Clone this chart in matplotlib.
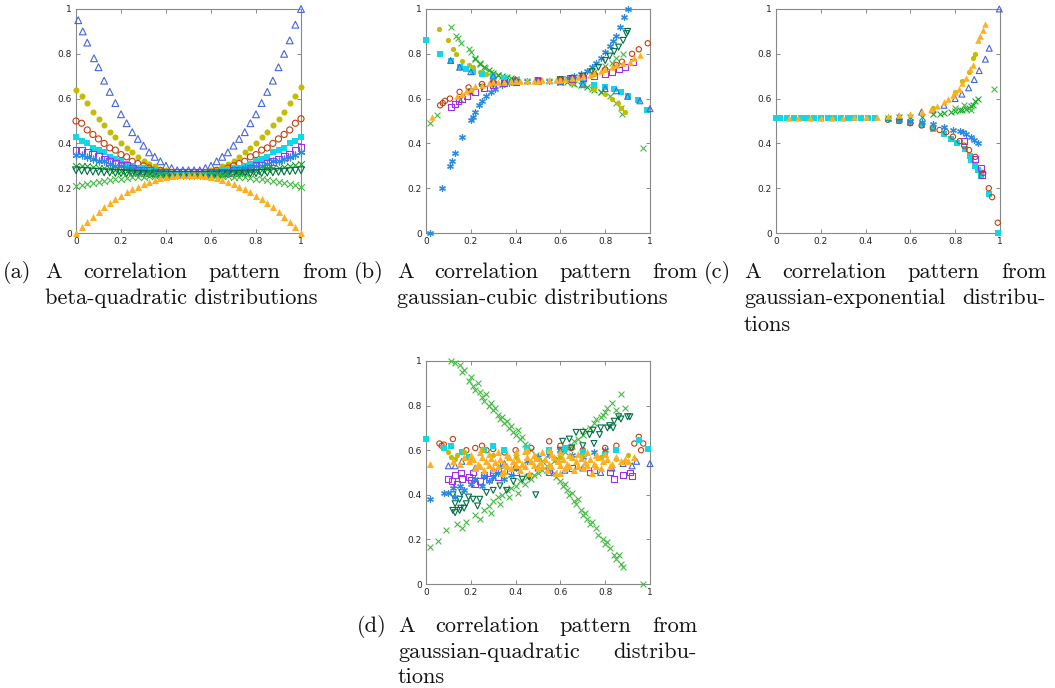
import matplotlib
matplotlib.use("Agg")
import matplotlib.pyplot as plt

W, H = 1055, 688

# ---------------- colours / markers ----------------
C_BLUE_TRI = '#4466dd'
C_OLIVE = '#c4bc00'
C_BROWN = '#c04010'
C_CYAN = '#10d8e4'
C_PURPLE = '#a030e8'
C_STAR = '#2a8be0'
C_GREEN = '#18a828'
C_GREENX = '#44bb44'
C_DKGREEN = '#006d45'
C_ORANGE = '#ffb020'

TICKS = [0, 0.2, 0.4, 0.6, 0.8, 1.0]
TICK_LABELS = ['0', '0.2', '0.4', '0.6', '0.8', '1']

# ---------------- panel (a): beta-quadratic ----------------
XA = [0.0, 0.025, 0.05, 0.075, 0.1, 0.125, 0.15, 0.175, 0.2, 0.225, 0.25, 0.275, 0.3,
      0.325, 0.35, 0.375, 0.4, 0.425, 0.45, 0.475, 0.5, 0.525, 0.55, 0.575, 0.6, 0.625,
      0.65, 0.675, 0.7, 0.725, 0.75, 0.775, 0.8, 0.825, 0.85, 0.875, 0.9, 0.925, 0.95,
      0.975, 1.0]
XA_BLUE = [0.01, 0.03, 0.05, 0.08, 0.10, 0.125, 0.15, 0.175, 0.2, 0.225, 0.25, 0.275, 0.3,
           0.325, 0.35, 0.375, 0.4, 0.425, 0.45, 0.475, 0.5, 0.525, 0.55, 0.575, 0.6, 0.625,
           0.65, 0.675, 0.7, 0.725, 0.75, 0.775, 0.8, 0.825, 0.85, 0.875, 0.9, 0.925, 0.95,
           0.975, 1.0]
YA_BLUE = [0.95, 0.90, 0.85, 0.78, 0.74, 0.68, 0.63, 0.58, 0.53, 0.49, 0.45, 0.42, 0.39, 0.36,
           0.34, 0.32, 0.30, 0.29, 0.28, 0.28, 0.28, 0.28, 0.28, 0.29, 0.30, 0.32, 0.34, 0.36,
           0.39, 0.42, 0.45, 0.49, 0.53, 0.58, 0.63, 0.68, 0.74, 0.80, 0.86, 0.93, 1.00]
YA_OLIVE = [0.64, 0.61, 0.58, 0.54, 0.51, 0.48, 0.45, 0.43, 0.40, 0.38, 0.36, 0.34, 0.32, 0.31,
            0.30, 0.28, 0.28, 0.27, 0.26, 0.26, 0.26, 0.26, 0.26, 0.27, 0.28, 0.28, 0.30, 0.31,
            0.32, 0.34, 0.36, 0.38, 0.40, 0.43, 0.45, 0.48, 0.51, 0.54, 0.58, 0.61, 0.65]
YA_BROWN = [0.50, 0.49, 0.46, 0.44, 0.42, 0.40, 0.38, 0.37, 0.35, 0.34, 0.32, 0.31, 0.30, 0.29,
            0.28, 0.28, 0.27, 0.27, 0.26, 0.26, 0.26, 0.26, 0.26, 0.27, 0.27, 0.28, 0.28, 0.29,
            0.30, 0.31, 0.32, 0.34, 0.35, 0.37, 0.38, 0.40, 0.42, 0.44, 0.46, 0.49, 0.51]
YA_CYAN = [0.43, 0.41, 0.40, 0.38, 0.37, 0.36, 0.34, 0.33, 0.32, 0.31, 0.30, 0.29, 0.29, 0.28,
           0.28, 0.27, 0.27, 0.26, 0.26, 0.26, 0.26, 0.26, 0.26, 0.26, 0.27, 0.27, 0.28, 0.28,
           0.29, 0.29, 0.30, 0.31, 0.32, 0.33, 0.34, 0.36, 0.37, 0.38, 0.40, 0.41, 0.43]
YA_PURPLE = [0.37, 0.37, 0.36, 0.35, 0.34, 0.33, 0.32, 0.31, 0.30, 0.30, 0.29, 0.28, 0.28, 0.28,
             0.27, 0.27, 0.27, 0.27, 0.27, 0.27, 0.27, 0.27, 0.27, 0.27, 0.27, 0.27, 0.27, 0.27,
             0.28, 0.28, 0.28, 0.29, 0.30, 0.30, 0.31, 0.32, 0.33, 0.34, 0.35, 0.37, 0.38]
YA_STAR = [0.35, 0.35, 0.34, 0.33, 0.32, 0.32, 0.31, 0.30, 0.30, 0.29, 0.29, 0.28, 0.28, 0.27,
           0.27, 0.27, 0.26, 0.26, 0.26, 0.26, 0.26, 0.26, 0.26, 0.26, 0.26, 0.27, 0.27, 0.27,
           0.28, 0.28, 0.29, 0.29, 0.30, 0.30, 0.31, 0.32, 0.32, 0.33, 0.34, 0.35, 0.36]
YA_GREEN = [0.30, 0.30, 0.30, 0.296, 0.292, 0.288, 0.285, 0.281, 0.278, 0.275, 0.272, 0.270,
            0.268, 0.266, 0.264, 0.263, 0.262, 0.261, 0.260, 0.260, 0.260, 0.260, 0.260, 0.261,
            0.262, 0.263, 0.264, 0.266, 0.268, 0.270, 0.272, 0.275, 0.278, 0.281, 0.285, 0.288,
            0.292, 0.296, 0.300, 0.305, 0.31]
YA_DKGREEN = [0.28, 0.278, 0.276, 0.274, 0.273, 0.271, 0.270, 0.268, 0.267, 0.266, 0.265, 0.264,
              0.263, 0.262, 0.262, 0.261, 0.261, 0.260, 0.260, 0.260, 0.260, 0.260, 0.260, 0.260,
              0.261, 0.261, 0.262, 0.262, 0.263, 0.264, 0.265, 0.266, 0.267, 0.268, 0.270, 0.271,
              0.273, 0.274, 0.276, 0.278, 0.28]
YA_GREENX = [0.21, 0.215, 0.22, 0.224, 0.228, 0.232, 0.236, 0.239, 0.242, 0.245, 0.248, 0.250,
             0.252, 0.254, 0.256, 0.257, 0.258, 0.259, 0.259, 0.260, 0.260, 0.260, 0.259, 0.259,
             0.258, 0.257, 0.256, 0.254, 0.252, 0.250, 0.248, 0.245, 0.242, 0.239, 0.236, 0.232,
             0.228, 0.224, 0.22, 0.213, 0.205]
YA_ORANGE = [0.0, 0.025, 0.049, 0.072, 0.094, 0.114, 0.133, 0.150, 0.166, 0.181, 0.195, 0.207,
             0.218, 0.228, 0.237, 0.244, 0.250, 0.254, 0.257, 0.259, 0.26, 0.259, 0.257, 0.254,
             0.250, 0.244, 0.237, 0.228, 0.218, 0.207, 0.195, 0.181, 0.166, 0.150, 0.133, 0.114,
             0.094, 0.072, 0.049, 0.025, 0.0]

# ---------------- panel (b): gaussian-cubic ----------------
XB_STAR = [0.02, 0.07, 0.105, 0.115, 0.13, 0.16, 0.20, 0.21, 0.22, 0.235, 0.25, 0.27, 0.29, 0.31,
           0.34, 0.37, 0.40, 0.45, 0.50, 0.55, 0.60, 0.63, 0.66, 0.69, 0.72, 0.74, 0.76, 0.78,
           0.80, 0.82, 0.835, 0.85, 0.865, 0.885, 0.90]
YB_STAR = [0.00, 0.20, 0.30, 0.32, 0.355, 0.43, 0.505, 0.52, 0.54, 0.57, 0.59, 0.61, 0.63, 0.645,
           0.66, 0.67, 0.675, 0.68, 0.68, 0.68, 0.685, 0.69, 0.70, 0.71, 0.725, 0.74, 0.76, 0.78,
           0.81, 0.835, 0.855, 0.88, 0.92, 0.965, 1.0]
XB_GREENX_DN = [0.11, 0.135, 0.145, 0.157, 0.19, 0.20, 0.22, 0.24, 0.265, 0.29, 0.32, 0.35, 0.40,
                0.45, 0.50, 0.55, 0.60, 0.65, 0.70, 0.74, 0.78, 0.82, 0.85, 0.87, 0.876, 0.97]
YB_GREENX_DN = [0.92, 0.88, 0.87, 0.85, 0.82, 0.81, 0.78, 0.76, 0.735, 0.72, 0.705, 0.695, 0.685,
                0.68, 0.68, 0.68, 0.675, 0.67, 0.66, 0.645, 0.63, 0.61, 0.58, 0.56, 0.53, 0.378]
XB_GREEN_DN = [0.22, 0.24, 0.26, 0.28, 0.30, 0.32, 0.34, 0.36, 0.38, 0.40, 0.60, 0.63, 0.66, 0.69,
               0.72, 0.75, 0.78]
YB_GREEN_DN = [0.775, 0.755, 0.74, 0.727, 0.716, 0.707, 0.70, 0.695, 0.69, 0.686, 0.676, 0.672,
               0.667, 0.66, 0.652, 0.64, 0.628]
XB_GREENX_UP = [0.02, 0.05, 0.15, 0.20, 0.30, 0.40, 0.50, 0.60, 0.70, 0.75, 0.80, 0.83, 0.85, 0.88]
YB_GREENX_UP = [0.49, 0.527, 0.60, 0.63, 0.665, 0.678, 0.68, 0.685, 0.70, 0.72, 0.745, 0.76, 0.78,
                0.80]
XB_DKGREEN = [0.20, 0.25, 0.30, 0.35, 0.40, 0.50, 0.60, 0.65, 0.70, 0.74, 0.77, 0.80, 0.82, 0.84,
              0.86, 0.88, 0.895, 0.90]
YB_DKGREEN = [0.63, 0.65, 0.665, 0.673, 0.678, 0.68, 0.685, 0.69, 0.70, 0.72, 0.74, 0.77, 0.79,
              0.81, 0.83, 0.86, 0.89, 0.90]
XB_OLIVE = [0.06, 0.10, 0.12, 0.135, 0.16, 0.19, 0.21, 0.24, 0.27, 0.30, 0.35, 0.40, 0.50, 0.60,
            0.65, 0.70, 0.75, 0.80, 0.83, 0.855, 0.87, 0.89]
YB_OLIVE = [0.91, 0.86, 0.82, 0.80, 0.77, 0.75, 0.74, 0.72, 0.71, 0.70, 0.69, 0.685, 0.68, 0.675,
            0.67, 0.66, 0.645, 0.62, 0.60, 0.58, 0.56, 0.54]
XB_CYAN = [0.0, 0.063, 0.113, 0.15, 0.18, 0.21, 0.25, 0.30, 0.35, 0.40, 0.50, 0.60, 0.70, 0.75,
           0.80, 0.84, 0.87, 0.90, 0.948, 0.985]
YB_CYAN = [0.86, 0.80, 0.77, 0.74, 0.73, 0.72, 0.71, 0.70, 0.69, 0.685, 0.68, 0.675, 0.67, 0.66,
           0.65, 0.645, 0.63, 0.61, 0.594, 0.551]
XB_BLUE_TRI = [0.11, 0.15, 0.20, 0.30, 0.40, 0.50, 0.60, 0.70, 0.80, 0.85, 0.90, 0.955, 1.0]
YB_BLUE_TRI = [0.77, 0.74, 0.72, 0.70, 0.685, 0.68, 0.675, 0.665, 0.645, 0.635, 0.61, 0.59, 0.555]
XB_BROWN = [0.063, 0.075, 0.085, 0.107, 0.15, 0.19, 0.25, 0.30, 0.40, 0.50, 0.60, 0.70, 0.75,
            0.80, 0.85, 0.875, 0.92, 0.95, 0.99]
YB_BROWN = [0.57, 0.58, 0.59, 0.60, 0.63, 0.65, 0.665, 0.672, 0.678, 0.68, 0.685, 0.70, 0.71,
            0.73, 0.75, 0.765, 0.80, 0.82, 0.847]
XB_PURPLE = [0.111, 0.13, 0.145, 0.16, 0.185, 0.22, 0.26, 0.30, 0.35, 0.40, 0.50, 0.60, 0.65,
             0.70, 0.75, 0.80, 0.83, 0.86, 0.89, 0.925]
YB_PURPLE = [0.561, 0.575, 0.59, 0.60, 0.61, 0.63, 0.645, 0.66, 0.67, 0.675, 0.68, 0.683, 0.687,
             0.69, 0.70, 0.71, 0.72, 0.73, 0.74, 0.765]
XB_ORANGE = [0.026, 0.14, 0.16, 0.18, 0.20, 0.22, 0.25, 0.28, 0.30, 0.32, 0.35, 0.38, 0.40, 0.42,
             0.45, 0.48, 0.50, 0.52, 0.55, 0.58, 0.60, 0.62, 0.65, 0.68, 0.70, 0.73, 0.75, 0.78,
             0.80, 0.83, 0.85, 0.88, 0.91, 0.93, 0.955]
YB_ORANGE = [0.516, 0.61, 0.62, 0.635, 0.645, 0.655, 0.66, 0.668, 0.672, 0.674, 0.676, 0.677,
             0.678, 0.679, 0.68, 0.68, 0.68, 0.681, 0.682, 0.684, 0.685, 0.687, 0.69, 0.695, 0.70,
             0.707, 0.715, 0.722, 0.73, 0.74, 0.75, 0.76, 0.765, 0.78, 0.795]

# ---------------- panel (c): gaussian-exponential ----------------
XC_FLAT = [0.05, 0.08, 0.11, 0.14, 0.17, 0.20, 0.23, 0.26, 0.29, 0.32, 0.35, 0.38, 0.41, 0.44]
YC_FLAT = [0.515, 0.515, 0.515, 0.515, 0.515, 0.515, 0.515, 0.515, 0.515, 0.515, 0.515, 0.515,
           0.515, 0.515]
XC_ORANGE = [0.06, 0.10, 0.15, 0.20, 0.25, 0.30, 0.35, 0.40, 0.45, 0.50, 0.55, 0.60, 0.65, 0.69,
             0.72, 0.75, 0.77, 0.79, 0.80, 0.818, 0.83, 0.85, 0.865, 0.878, 0.90, 0.91, 0.923,
             0.933]
YC_ORANGE = [0.515, 0.515, 0.515, 0.515, 0.515, 0.515, 0.517, 0.518, 0.52, 0.522, 0.525, 0.53,
             0.54, 0.555, 0.565, 0.585, 0.60, 0.615, 0.63, 0.645, 0.67, 0.69, 0.73, 0.75, 0.86,
             0.88, 0.907, 0.933]
XC_OLIVE = [0.70, 0.80, 0.83, 0.86, 0.88, 0.888]
YC_OLIVE = [0.56, 0.63, 0.68, 0.72, 0.78, 0.80]
XC_BLUE_TRI = [0.55, 0.65, 0.70, 0.75, 0.80, 0.83, 0.86, 0.885, 0.907, 0.935, 0.952, 0.997]
YC_BLUE_TRI = [0.52, 0.54, 0.55, 0.57, 0.60, 0.62, 0.648, 0.685, 0.725, 0.776, 0.825, 1.0]
XC_GREEN = [0.50, 0.55, 0.60, 0.65, 0.70, 0.73, 0.75, 0.78, 0.80, 0.82, 0.83, 0.85, 0.86, 0.87,
            0.88, 0.89, 0.90]
YC_GREEN = [0.515, 0.517, 0.52, 0.52, 0.53, 0.533, 0.535, 0.54, 0.545, 0.548, 0.55, 0.555, 0.56,
            0.565, 0.57, 0.59, 0.60]
XC_GREENX = [0.80, 0.84, 0.87, 0.975]
YC_GREENX = [0.56, 0.57, 0.55, 0.643]
XC_STAR = [0.50, 0.55, 0.60, 0.65, 0.70, 0.75, 0.79, 0.82, 0.835, 0.85, 0.87, 0.885, 0.90]
YC_STAR = [0.51, 0.505, 0.50, 0.495, 0.485, 0.475, 0.46, 0.455, 0.45, 0.44, 0.43, 0.415, 0.40]
XC_BROWN = [0.50, 0.55, 0.60, 0.65, 0.70, 0.73, 0.76, 0.79, 0.82, 0.84, 0.862, 0.89, 0.925, 0.95,
            0.965, 0.99]
YC_BROWN = [0.505, 0.50, 0.49, 0.48, 0.47, 0.46, 0.45, 0.43, 0.41, 0.39, 0.37, 0.34, 0.268, 0.20,
            0.16, 0.046]
XC_PURPLE = [0.838, 0.89, 0.915, 0.92]
YC_PURPLE = [0.41, 0.33, 0.29, 0.26]
XC_CYAN = [0.0, 0.02, 0.55, 0.60, 0.65, 0.70, 0.75, 0.78, 0.81, 0.845, 0.865, 0.87, 0.89, 0.90,
           0.915, 0.95, 0.99]
YC_CYAN = [0.515, 0.515, 0.50, 0.49, 0.48, 0.465, 0.44, 0.42, 0.40, 0.375, 0.345, 0.325, 0.30,
           0.28, 0.255, 0.175, 0.0]

# ---------------- panel (d): gaussian-quadratic ----------------
XD_GREENX_DN = [0.11, 0.13, 0.15, 0.16, 0.17, 0.19, 0.20, 0.21, 0.22, 0.23, 0.24, 0.25, 0.26, 0.27,
                0.28, 0.29, 0.30, 0.31, 0.32, 0.33, 0.34, 0.35, 0.36, 0.37, 0.38, 0.39, 0.40, 0.41,
                0.42, 0.43, 0.44, 0.45, 0.47, 0.49, 0.52, 0.55, 0.57, 0.58, 0.60, 0.61, 0.62, 0.63,
                0.64, 0.65, 0.66, 0.67, 0.68, 0.69, 0.70, 0.71, 0.72, 0.73, 0.74, 0.76, 0.77, 0.79,
                0.80, 0.81, 0.82, 0.84, 0.85, 0.86, 0.87, 0.88, 0.97]
YD_GREENX_DN = [1.00, 0.99, 0.98, 0.95, 0.96, 0.91, 0.93, 0.89, 0.87, 0.90, 0.86, 0.84, 0.82, 0.85,
                0.80, 0.81, 0.78, 0.79, 0.76, 0.74, 0.75, 0.72, 0.73, 0.70, 0.71, 0.68, 0.67, 0.69,
                0.65, 0.66, 0.63, 0.62, 0.60, 0.58, 0.55, 0.52, 0.50, 0.48, 0.46, 0.44, 0.45, 0.42,
                0.40, 0.41, 0.37, 0.36, 0.38, 0.33, 0.31, 0.32, 0.29, 0.27, 0.28, 0.25, 0.22, 0.20,
                0.18, 0.19, 0.16, 0.13, 0.11, 0.13, 0.09, 0.075, 0.0]
XD_GREENX_UP = [0.02, 0.055, 0.09, 0.14, 0.16, 0.18, 0.22, 0.24, 0.26, 0.28, 0.29, 0.30, 0.32, 0.33,
                0.34, 0.36, 0.37, 0.38, 0.40, 0.41, 0.42, 0.44, 0.45, 0.47, 0.48, 0.50, 0.52, 0.54,
                0.55, 0.57, 0.59, 0.60, 0.62, 0.63, 0.65, 0.66, 0.68, 0.70, 0.71, 0.73, 0.75, 0.76,
                0.78, 0.79, 0.80, 0.81, 0.83, 0.85, 0.87, 0.89]
YD_GREENX_UP = [0.167, 0.195, 0.24, 0.27, 0.25, 0.28, 0.31, 0.29, 0.33, 0.35, 0.32, 0.37, 0.39,
                0.36, 0.40, 0.42, 0.39, 0.43, 0.44, 0.41, 0.46, 0.45, 0.48, 0.47, 0.49, 0.50, 0.51,
                0.53, 0.52, 0.55, 0.56, 0.58, 0.59, 0.61, 0.62, 0.64, 0.65, 0.67, 0.69, 0.70, 0.72,
                0.74, 0.75, 0.76, 0.77, 0.79, 0.81, 0.78, 0.85, 0.79]
XD_DKGREEN = [0.12, 0.13, 0.15, 0.18, 0.19, 0.21, 0.24, 0.27, 0.30, 0.33, 0.36, 0.39, 0.43, 0.46,
              0.15, 0.17, 0.23, 0.12, 0.16, 0.13, 0.155, 0.49, 0.55, 0.60, 0.61, 0.64, 0.65, 0.67,
              0.70, 0.70, 0.73, 0.746, 0.775, 0.78, 0.81, 0.82, 0.835, 0.84, 0.86, 0.87, 0.90,
              0.91, 0.75]
YD_DKGREEN = [0.33, 0.36, 0.38, 0.36, 0.39, 0.38, 0.38, 0.41, 0.42, 0.44, 0.42, 0.46, 0.47, 0.48,
              0.33, 0.34, 0.35, 0.40, 0.41, 0.32, 0.34, 0.40, 0.58, 0.60, 0.64, 0.65, 0.61, 0.68,
              0.68, 0.62, 0.67, 0.69, 0.67, 0.70, 0.70, 0.71, 0.70, 0.73, 0.75, 0.74, 0.75, 0.75,
              0.63]
XD_PURPLE = [0.10, 0.115, 0.13, 0.14, 0.155, 0.16, 0.19, 0.20, 0.21, 0.22, 0.24, 0.26, 0.28, 0.30,
             0.32, 0.35, 0.40, 0.55, 0.65, 0.73, 0.75, 0.82, 0.84, 0.88, 0.91, 0.92]
YD_PURPLE = [0.47, 0.46, 0.49, 0.45, 0.50, 0.47, 0.48, 0.465, 0.50, 0.45, 0.46, 0.49, 0.47, 0.50,
             0.48, 0.51, 0.50, 0.51, 0.52, 0.50, 0.51, 0.50, 0.47, 0.49, 0.50, 0.485]
XD_STAR = [0.02, 0.08, 0.10, 0.12, 0.13, 0.15, 0.17, 0.20, 0.22, 0.25, 0.28, 0.30, 0.32, 0.35,
           0.38, 0.40, 0.45, 0.50, 0.55, 0.60, 0.65, 0.70, 0.75, 0.80, 0.26, 0.33]
YD_STAR = [0.38, 0.41, 0.41, 0.43, 0.39, 0.44, 0.42, 0.45, 0.47, 0.44, 0.46, 0.48, 0.50, 0.47,
           0.49, 0.52, 0.55, 0.57, 0.58, 0.60, 0.58, 0.57, 0.59, 0.60, 0.485, 0.53]
XD_BROWN = [0.06, 0.07, 0.08, 0.12, 0.18, 0.22, 0.25, 0.27, 0.30, 0.35, 0.40, 0.47, 0.55, 0.60,
            0.65, 0.70, 0.80, 0.85, 0.93, 0.95, 0.97, 0.96]
YD_BROWN = [0.63, 0.62, 0.625, 0.65, 0.60, 0.61, 0.62, 0.60, 0.605, 0.59, 0.60, 0.61, 0.64, 0.62,
            0.61, 0.60, 0.61, 0.62, 0.63, 0.66, 0.63, 0.60]
XD_CYAN = [0.0, 0.08, 0.11, 0.16, 0.19, 0.26, 0.30, 0.35, 0.45, 0.55, 0.62, 0.70, 0.80, 0.85,
           0.95, 0.99]
YD_CYAN = [0.65, 0.61, 0.62, 0.59, 0.57, 0.60, 0.62, 0.60, 0.61, 0.60, 0.61, 0.59, 0.58, 0.60,
           0.645, 0.605]
XD_OLIVE = [0.10, 0.11, 0.13, 0.14, 0.17, 0.20, 0.25, 0.30, 0.40, 0.50, 0.60, 0.70, 0.78, 0.85,
            0.90]
YD_OLIVE = [0.59, 0.57, 0.56, 0.58, 0.59, 0.56, 0.60, 0.58, 0.57, 0.56, 0.57, 0.58, 0.57, 0.56,
            0.58]
XD_BLUE_TRI = [0.10, 0.13, 0.16, 0.22, 0.30, 0.35, 0.40, 0.50, 0.55, 0.62, 0.70, 0.78, 0.83, 0.88,
               0.92, 0.94, 1.0]
YD_BLUE_TRI = [0.53, 0.53, 0.55, 0.52, 0.51, 0.54, 0.53, 0.52, 0.50, 0.51, 0.52, 0.50, 0.52, 0.54,
               0.53, 0.55, 0.54]
XD_ORANGE = [0.22, 0.26, 0.30, 0.34, 0.38, 0.42, 0.46, 0.50, 0.54, 0.58, 0.62, 0.66, 0.70, 0.74,
             0.78, 0.82,
             0.15, 0.19, 0.23, 0.27, 0.31, 0.35, 0.39, 0.43, 0.47, 0.51, 0.55, 0.59, 0.63, 0.67,
             0.71, 0.75, 0.79, 0.83, 0.87,
             0.17, 0.21, 0.25, 0.29, 0.33, 0.37, 0.41, 0.45, 0.49, 0.53, 0.57, 0.61, 0.65, 0.69,
             0.73, 0.77, 0.81, 0.85, 0.89,
             0.20, 0.24, 0.28, 0.32, 0.36, 0.40, 0.44, 0.48, 0.52, 0.56, 0.60, 0.64, 0.68, 0.72,
             0.76, 0.80,
             0.24, 0.28, 0.32, 0.36, 0.40, 0.44, 0.48, 0.52, 0.56, 0.60, 0.64, 0.68, 0.72, 0.76,
             0.02, 0.93, 0.90, 0.12, 0.45, 0.55, 0.35, 0.60]
YD_ORANGE = [0.52, 0.51, 0.52, 0.50, 0.52, 0.51, 0.50, 0.52, 0.51, 0.50, 0.52, 0.51, 0.52, 0.50,
             0.52, 0.53,
             0.54, 0.55, 0.54, 0.55, 0.545, 0.54, 0.55, 0.54, 0.55, 0.545, 0.54, 0.55, 0.54, 0.55,
             0.545, 0.54, 0.55, 0.54, 0.55,
             0.57, 0.56, 0.57, 0.565, 0.56, 0.57, 0.56, 0.57, 0.565, 0.56, 0.57, 0.56, 0.57, 0.565,
             0.56, 0.57, 0.56, 0.57, 0.56,
             0.58, 0.59, 0.585, 0.59, 0.58, 0.59, 0.595, 0.58, 0.59, 0.585, 0.59, 0.58, 0.585, 0.59,
             0.58, 0.585,
             0.53, 0.535, 0.53, 0.53, 0.535, 0.53, 0.535, 0.53, 0.53, 0.535, 0.53, 0.53, 0.535, 0.53,
             0.54, 0.57, 0.55, 0.55, 0.60, 0.60, 0.505, 0.50]

# ---------------- captions ----------------
CAPTIONS = {
    'a': ("(a)", ["A correlation pattern from", "beta-quadratic distributions"]),
    'b': ("(b)", ["A correlation pattern from", "gaussian-cubic distributions"]),
    'c': ("(c)", ["A correlation pattern from", "gaussian-exponential distribu-", "tions"]),
    'd': ("(d)", ["A correlation pattern from", "gaussian-quadratic distribu-", "tions"]),
}

# ---------------- figure ----------------
fig = plt.figure(figsize=(W / 100, H / 100), dpi=100)


def make_axes(px_left, px_top, px_w, px_h):
    ax = fig.add_axes([px_left / W, 1 - (px_top + px_h) / H, px_w / W, px_h / H])
    ax.set_xlim(0, 1)
    ax.set_ylim(0, 1)
    ax.set_xticks(TICKS)
    ax.set_yticks(TICKS)
    ax.set_xticklabels(TICK_LABELS)
    ax.set_yticklabels(TICK_LABELS)
    ax.tick_params(direction='in', length=3, width=0.6, color='#777777', top=True, right=True,
                   labelsize=6.5, labelcolor='#222222', pad=3)
    for s in ax.spines.values():
        s.set_color('#888888')
        s.set_linewidth(0.8)
    return ax


def sc(ax, x, y, color, kind, size=18):
    kw = dict(clip_on=False, zorder=3)
    if kind == 'tri_open':
        ax.scatter(x, y, s=size, marker='^', facecolors='none', edgecolors=color, linewidths=0.8, **kw)
    elif kind == 'tri_dn_open':
        ax.scatter(x, y, s=size, marker='v', facecolors='none', edgecolors=color, linewidths=0.8, **kw)
    elif kind == 'tri_fill':
        ax.scatter(x, y, s=size, marker='^', color=color, linewidths=0, **kw)
    elif kind == 'circ_open':
        ax.scatter(x, y, s=size * 0.8, marker='o', facecolors='none', edgecolors=color, linewidths=0.8, **kw)
    elif kind == 'circ_fill':
        ax.scatter(x, y, s=size * 0.8, marker='o', color=color, linewidths=0, **kw)
    elif kind == 'sq_open':
        ax.scatter(x, y, s=size, marker='s', facecolors='none', edgecolors=color, linewidths=0.8, **kw)
    elif kind == 'sq_fill':
        ax.scatter(x, y, s=size, marker='s', color=color, linewidths=0, **kw)
    elif kind == 'star':
        ax.scatter(x, y, s=size, marker=(6, 2, 0), color=color, linewidths=0.9, **kw)
    elif kind == 'x':
        ax.scatter(x, y, s=size, marker='x', color=color, linewidths=0.8, **kw)


# (a)
ax = make_axes(76, 9, 225, 224)
sc(ax, XA_BLUE, YA_BLUE, C_BLUE_TRI, 'tri_open', 24)
sc(ax, XA, YA_OLIVE, C_OLIVE, 'circ_fill', 24)
sc(ax, XA, YA_BROWN, C_BROWN, 'circ_open', 24)
sc(ax, XA, YA_CYAN, C_CYAN, 'sq_fill', 24)
sc(ax, XA, YA_PURPLE, C_PURPLE, 'sq_open', 24)
sc(ax, XA, YA_STAR, C_STAR, 'star', 24)
sc(ax, XA, YA_GREEN, C_GREEN, 'x', 24)
sc(ax, XA, YA_DKGREEN, C_DKGREEN, 'tri_dn_open', 24)
sc(ax, XA, YA_GREENX, C_GREENX, 'x', 24)
sc(ax, XA, YA_ORANGE, C_ORANGE, 'tri_fill', 26)

# (b)
ax = make_axes(426, 9, 224, 224)
sc(ax, XB_STAR, YB_STAR, C_STAR, 'star')
sc(ax, XB_GREENX_DN, YB_GREENX_DN, C_GREENX, 'x')
sc(ax, XB_GREEN_DN, YB_GREEN_DN, C_GREEN, 'x')
sc(ax, XB_GREENX_UP, YB_GREENX_UP, C_GREENX, 'x')
sc(ax, XB_DKGREEN, YB_DKGREEN, C_DKGREEN, 'tri_dn_open')
sc(ax, XB_OLIVE, YB_OLIVE, C_OLIVE, 'circ_fill')
sc(ax, XB_CYAN, YB_CYAN, C_CYAN, 'sq_fill')
sc(ax, XB_BLUE_TRI, YB_BLUE_TRI, C_BLUE_TRI, 'tri_open')
sc(ax, XB_BROWN, YB_BROWN, C_BROWN, 'circ_open')
sc(ax, XB_PURPLE, YB_PURPLE, C_PURPLE, 'sq_open')
sc(ax, XB_ORANGE, YB_ORANGE, C_ORANGE, 'tri_fill', 22)

# (c)
ax = make_axes(776, 9, 224, 224)
sc(ax, XC_CYAN, YC_CYAN, C_CYAN, 'sq_fill')
sc(ax, XC_PURPLE, YC_PURPLE, C_PURPLE, 'sq_open')
sc(ax, XC_BROWN, YC_BROWN, C_BROWN, 'circ_open')
sc(ax, XC_STAR, YC_STAR, C_STAR, 'star')
sc(ax, XC_GREEN, YC_GREEN, C_GREEN, 'x')
sc(ax, XC_GREENX, YC_GREENX, C_GREENX, 'x')
sc(ax, XC_BLUE_TRI, YC_BLUE_TRI, C_BLUE_TRI, 'tri_open')
sc(ax, XC_OLIVE, YC_OLIVE, C_OLIVE, 'circ_fill')
sc(ax, XC_FLAT, YC_FLAT, C_CYAN, 'sq_fill')
sc(ax, XC_ORANGE, YC_ORANGE, C_ORANGE, 'tri_fill', 22)

# (d)
ax = make_axes(426, 361, 224, 223)
sc(ax, XD_GREENX_DN, YD_GREENX_DN, C_GREENX, 'x')
sc(ax, XD_GREENX_UP, YD_GREENX_UP, C_GREENX, 'x')
sc(ax, XD_DKGREEN, YD_DKGREEN, C_DKGREEN, 'tri_dn_open')
sc(ax, XD_PURPLE, YD_PURPLE, C_PURPLE, 'sq_open')
sc(ax, XD_STAR, YD_STAR, C_STAR, 'star')
sc(ax, XD_BROWN, YD_BROWN, C_BROWN, 'circ_open')
sc(ax, XD_CYAN, YD_CYAN, C_CYAN, 'sq_fill')
sc(ax, XD_OLIVE, YD_OLIVE, C_OLIVE, 'circ_fill')
sc(ax, XD_BLUE_TRI, YD_BLUE_TRI, C_BLUE_TRI, 'tri_open')
sc(ax, XD_ORANGE, YD_ORANGE, C_ORANGE, 'tri_fill', 26)

# ---------------- captions (justified like LaTeX subcaptions) ----------------
CAP_FONT = 'cmr10'
renderer = fig.canvas.get_renderer()


def text_width(s, fs):
    t = fig.text(0, 0, s, fontsize=fs, family=CAP_FONT)
    w = t.get_window_extent(renderer).width
    t.remove()
    return w


# choose size so the natural line "beta-quadratic distributions" spans ~273 px
fs_probe = 12.0
cap_fs = fs_probe * 273.0 / text_width("beta-quadratic distributions", fs_probe)


def put_line(s, x0, x1, ybase, justify):
    words = s.split(' ')
    if not justify or len(words) == 1:
        fig.text(x0 / W, 1 - ybase / H, s, fontsize=cap_fs, family=CAP_FONT,
                 va='baseline', ha='left', color='#111111')
        return
    widths = [text_width(w, cap_fs) for w in words]
    gap = (x1 - x0 - sum(widths)) / (len(words) - 1)
    x = x0
    for w, wd in zip(words, widths):
        fig.text(x / W, 1 - ybase / H, w, fontsize=cap_fs, family=CAP_FONT,
                 va='baseline', ha='left', color='#111111')
        x += wd + gap


def put_caption(key, xlab, x0, x1, ybase, step):
    label, lines = CAPTIONS[key]
    fig.text(xlab / W, 1 - ybase / H, label, fontsize=cap_fs, family=CAP_FONT,
             va='baseline', ha='left', color='#111111')
    for i, line in enumerate(lines):
        justify = i < len(lines) - 1
        put_line(line, x0, x1, ybase + i * step, justify)


put_caption('a', 3, 45, 347, 278, 26.5)
put_caption('b', 354, 397, 697, 278, 26.5)
put_caption('c', 704, 744, 1046, 278, 26.5)
put_caption('d', 357, 398, 697, 632, 25.5)

fig.savefig('out.png', dpi=100)
